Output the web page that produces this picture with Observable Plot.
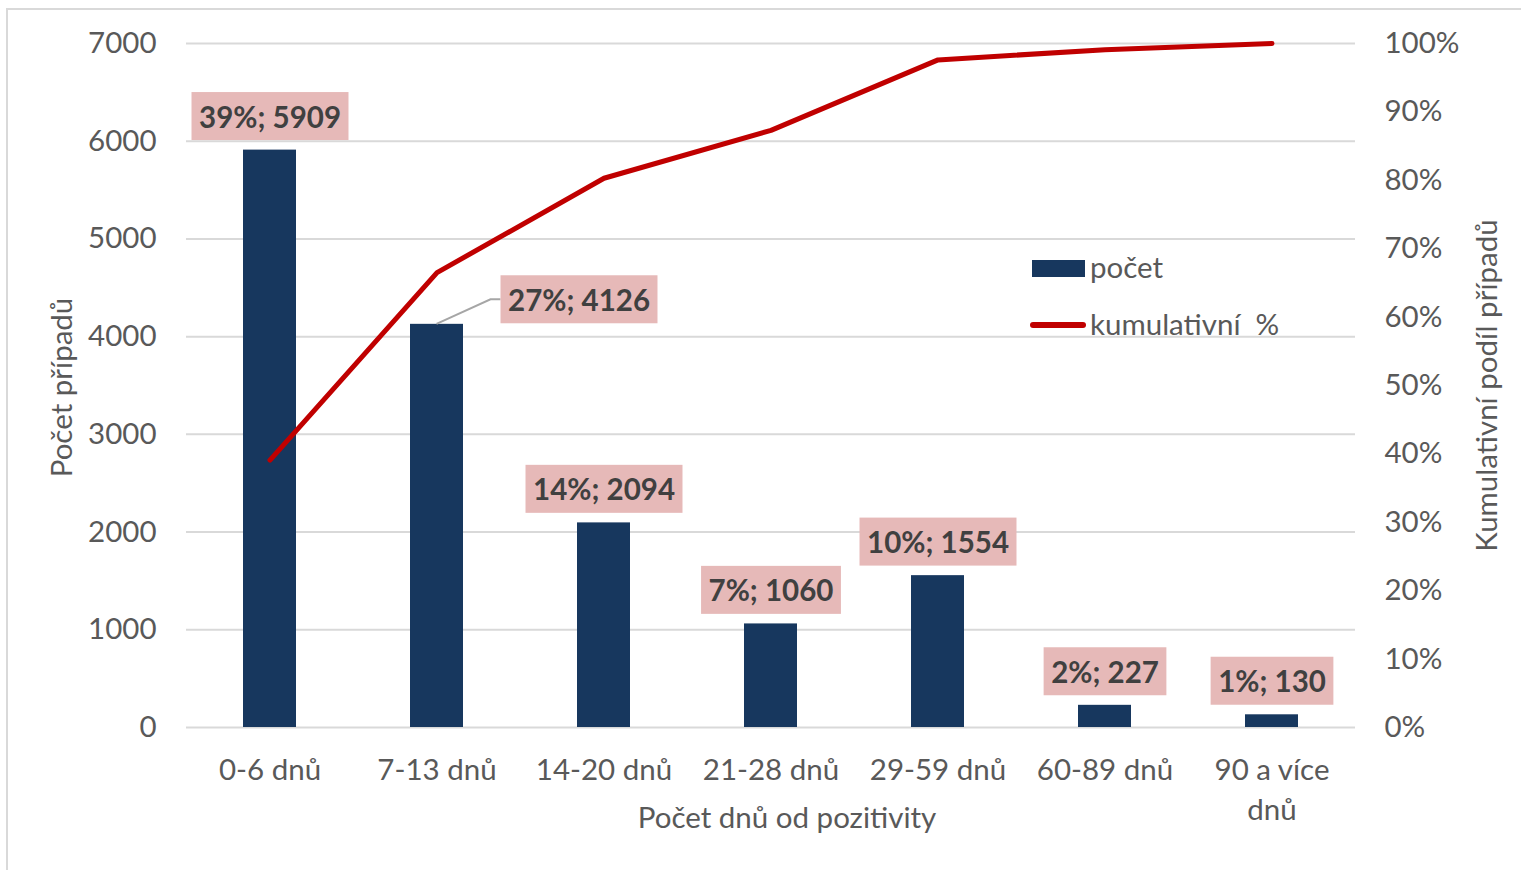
<!DOCTYPE html>
<html><head><meta charset="utf-8">
<script src="https://cdn.jsdelivr.net/npm/d3@7"></script>
<script src="https://cdn.jsdelivr.net/npm/@observablehq/plot@0.6"></script>
<style>
body{margin:0;background:#fff;}
#wrap{position:relative;width:1521px;height:870px;overflow:hidden;font-family:Lato,sans-serif;}
#frame{position:absolute;left:6px;top:8px;width:1600px;height:900px;border-left:2px solid #d9d9d9;border-top:2px solid #d9d9d9;pointer-events:none;}
.leg{position:absolute;color:#595959;font-size:29.5px;line-height:1;white-space:pre;}
</style></head><body>
<div id="wrap"><div id="chart"></div><div id="frame"></div><div id="legend"></div></div>
<script>
// ---- data ----
const categories = ["0-6 dnů","7-13 dnů","14-20 dnů","21-28 dnů","29-59 dnů","60-89 dnů","90 a více dnů"];
const counts = [5909, 4126, 2094, 1060, 1554, 227, 130];
const shares = [39, 27, 14, 7, 10, 2, 1];
const cumulativeShare = [0.391, 0.665, 0.803, 0.873, 0.976, 0.991, 1.0];
const leftTicks = [0, 1000, 2000, 3000, 4000, 5000, 6000, 7000];
const rightTicks = [0, 10, 20, 30, 40, 50, 60, 70, 80, 90, 100];
const seriesNames = ["počet", "kumulativní  %"];
const leftTitle = "Počet případů";
const rightTitle = "Kumulativní podíl případů";
const xTitle = "Počet dnů od pozitivity";
const offsetLabelCategory = "7-13 dnů";

const yMax = 7000;
const data = categories.map((c, i) => ({cat: c, count: counts[i], share: shares[i], cum: cumulativeShare[i]}));

const barColor = "#17375e";
const lineColor = "#c00000";
const textColor = "#595959";
const labelColor = "#404040";
const FS = 29.5;

const plot = Plot.plot({
  width: 1521,
  height: 870,
  marginLeft: 186,
  marginRight: 166,
  marginTop: 43,
  marginBottom: 143,
  style: {fontFamily: "Lato, sans-serif", fontSize: FS + "px", color: textColor, background: "white"},
  x: {type: "band", domain: categories, paddingInner: 0.68, paddingOuter: 0.34},
  y: {domain: [0, yMax]},
  marks: [
    Plot.gridY(leftTicks, {stroke: "#d9d9d9", strokeOpacity: 1, strokeWidth: 2}),
    Plot.barY(data, {x: "cat", y: "count", fill: barColor}),
    Plot.line(data, {x: "cat", y: d => d.cum * yMax, stroke: lineColor, strokeWidth: 5, strokeLinejoin: "miter"}),
    Plot.text(data.filter(d => d.cat !== offsetLabelCategory), {
      x: "cat", y: "count", text: d => `${d.share}%; ${d.count}`, dy: -32,
      fill: labelColor, fontWeight: "bold", fontSize: FS, className: "lbl"
    }),
    Plot.text(data.filter(d => d.cat === offsetLabelCategory), {
      x: "cat", y: "count", text: d => `${d.share}%; ${d.count}`, dx: 142, dy: -23,
      fill: labelColor, fontWeight: "bold", fontSize: FS, className: "lbl lbl-off"
    }),
    Plot.axisY(leftTicks, {anchor: "left", tickSize: 0, tickPadding: 30, label: null, fontSize: FS, tickFormat: d => String(d)}),
    Plot.axisY(rightTicks.map(p => p / 100 * yMax), {anchor: "right", tickSize: 0, tickPadding: 29, label: null, fontSize: FS,
      tickFormat: v => Math.round(v / yMax * 100) + "%"}),
    Plot.axisX({tickSize: 0, tickPadding: 24, label: null, fontSize: FS, lineHeight: 1.36,
      tickFormat: d => d === "90 a více dnů" ? "90 a více\ndnů" : d}),
    Plot.text([leftTitle], {text: d => d, frameAnchor: "left", textAnchor: "middle", lineAnchor: "middle", rotate: -90, dx: -124, dy: 2, fontSize: FS, fill: textColor}),
    Plot.text([rightTitle], {text: d => d, frameAnchor: "right", textAnchor: "middle", lineAnchor: "middle", rotate: -90, dx: 132, fontSize: FS, fill: textColor}),
    Plot.text([xTitle], {text: d => d, frameAnchor: "bottom", lineAnchor: "middle", dy: 91, dx: 16, fontSize: FS, fill: textColor})
  ]
});
document.getElementById("chart").appendChild(plot);

// label boxes
const ns = "http://www.w3.org/2000/svg";
const padX = 7.5, padY = 6.5;
plot.querySelectorAll("g.lbl text").forEach(t => {
  const b = t.getBBox();
  const r = document.createElementNS(ns, "rect");
  r.setAttribute("x", b.x - padX);
  r.setAttribute("y", b.y - padY);
  r.setAttribute("width", b.width + 2 * padX);
  r.setAttribute("height", b.height + 2 * padY);
  r.setAttribute("fill", "#e6b9b8");
  if (t.getAttribute("transform")) r.setAttribute("transform", t.getAttribute("transform"));
  t.parentNode.insertBefore(r, t);
});

// leader line for the offset label
const xs = plot.scale("x"), ys = plot.scale("y");
const svgBox = plot.getBoundingClientRect();
const offRect = plot.querySelector("g.lbl-off rect").getBoundingClientRect();
const bx = xs.apply(offsetLabelCategory) + xs.bandwidth / 2;
const by = ys.apply(counts[categories.indexOf(offsetLabelCategory)]);
const left = offRect.left - svgBox.left, cy = offRect.top - svgBox.top + offRect.height / 2;
const path = document.createElementNS(ns, "path");
path.setAttribute("d", `M${bx},${by}L${left - 10},${cy}L${left},${cy}`);
path.setAttribute("fill", "none");
path.setAttribute("stroke", "#a6a6a6");
path.setAttribute("stroke-width", 2);
const offG = plot.querySelector("g.lbl-off");
offG.parentNode.insertBefore(path, offG);

// legend (inside plot area)
const legend = document.getElementById("legend");
const lx = 1032;
const sw1 = document.createElement("div");
Object.assign(sw1.style, {position: "absolute", left: lx + "px", top: "260px", width: "53px", height: "17px", background: barColor});
legend.appendChild(sw1);
const t1 = document.createElement("div");
t1.className = "leg"; t1.textContent = seriesNames[0];
Object.assign(t1.style, {left: "1090px", top: "252px"});
legend.appendChild(t1);
const sw2 = document.createElement("div");
Object.assign(sw2.style, {position: "absolute", left: (lx - 2) + "px", top: "322px", width: "56px", height: "6px", background: lineColor, borderRadius: "3px"});
legend.appendChild(sw2);
const t2 = document.createElement("div");
t2.className = "leg"; t2.textContent = seriesNames[1];
Object.assign(t2.style, {left: "1090px", top: "309px"});
legend.appendChild(t2);
</script>
</body></html>
